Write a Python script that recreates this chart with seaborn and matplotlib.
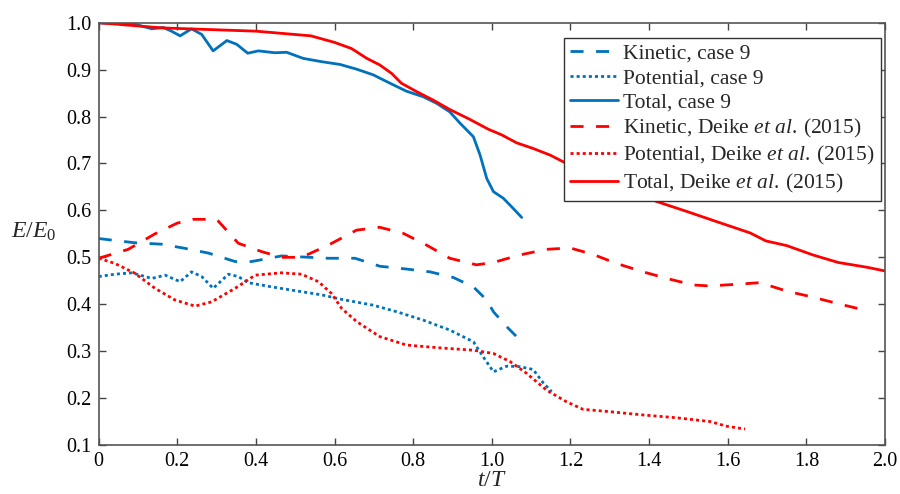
import matplotlib
matplotlib.use('Agg')
import matplotlib.pyplot as plt
import seaborn as sns
import pandas as pd

# energy curves (t/T, E/E0)
t_tot9 = [0, 0.04, 0.075, 0.1, 0.135, 0.164, 0.185, 0.207, 0.236, 0.262, 0.291, 0.326, 0.351, 0.379,
          0.406, 0.448, 0.478, 0.52, 0.567, 0.614, 0.656, 0.698, 0.741, 0.783, 0.826, 0.86, 0.893,
          0.919, 0.953, 0.97, 0.987, 1.004, 1.029, 1.05, 1.076]
e_tot9 = [1.0, 0.998, 1.0, 0.995, 0.987, 0.99, 0.982, 0.972, 0.987, 0.975, 0.94, 0.962, 0.954, 0.935,
          0.94, 0.936, 0.937, 0.924, 0.917, 0.911, 0.901, 0.889, 0.871, 0.854, 0.842, 0.828, 0.81,
          0.786, 0.757, 0.718, 0.668, 0.64, 0.626, 0.608, 0.585]

t_kin9 = [0, 0.092, 0.16, 0.22, 0.279, 0.347, 0.389, 0.465, 0.584, 0.652, 0.715, 0.783, 0.843,
          0.902, 0.953, 0.987, 1.004, 1.038, 1.076]
e_kin9 = [0.54, 0.531, 0.528, 0.519, 0.509, 0.491, 0.491, 0.503, 0.498, 0.498, 0.481, 0.475, 0.469,
          0.457, 0.437, 0.409, 0.384, 0.352, 0.32]

t_pot9 = [0, 0.041, 0.084, 0.135, 0.169, 0.207, 0.236, 0.262, 0.291, 0.33, 0.355, 0.38, 0.44, 0.499,
          0.567, 0.614, 0.698, 0.758, 0.826, 0.893, 0.953, 0.978, 1.004, 1.038, 1.071, 1.105, 1.131, 1.152]
e_pot9 = [0.459, 0.464, 0.467, 0.455, 0.462, 0.448, 0.469, 0.459, 0.434, 0.464, 0.459, 0.446, 0.437,
          0.429, 0.42, 0.411, 0.398, 0.384, 0.366, 0.345, 0.32, 0.288, 0.256, 0.268, 0.267, 0.261,
          0.232, 0.214]

t_totD = [0, 0.16, 0.4, 0.54, 0.6, 0.643, 0.682, 0.715, 0.745, 0.77, 0.809, 0.851, 0.893, 0.944,
          0.991, 1.025, 1.063, 1.105, 1.148, 1.19, 1.419, 1.495, 1.572, 1.657, 1.697, 1.75, 1.817,
          1.881, 1.953, 2.0]
e_totD = [1.0, 0.989, 0.982, 0.972, 0.958, 0.945, 0.924, 0.91, 0.892, 0.871, 0.853, 0.835, 0.815,
          0.794, 0.773, 0.761, 0.744, 0.732, 0.718, 0.7, 0.619, 0.598, 0.576, 0.552, 0.535, 0.525,
          0.505, 0.489, 0.479, 0.471]

t_kinD = [0, 0.075, 0.143, 0.2, 0.24, 0.3, 0.355, 0.415, 0.465, 0.516, 0.584, 0.656, 0.715, 0.775,
          0.834, 0.893, 0.961, 1.004, 1.071, 1.139, 1.199, 1.258, 1.317, 1.385, 1.445, 1.512, 1.555,
          1.631, 1.682, 1.75, 1.817, 1.877, 1.95]
e_kinD = [0.498, 0.517, 0.55, 0.573, 0.581, 0.581, 0.53, 0.512, 0.5, 0.5, 0.526, 0.558, 0.564, 0.551,
          0.526, 0.498, 0.484, 0.489, 0.505, 0.517, 0.52, 0.506, 0.487, 0.469, 0.455, 0.441, 0.439,
          0.443, 0.446, 0.428, 0.415, 0.402, 0.387]

t_potD = [0, 0.041, 0.092, 0.143, 0.194, 0.245, 0.287, 0.347, 0.398, 0.465, 0.516, 0.559, 0.592,
          0.618, 0.656, 0.715, 0.783, 0.868, 0.953, 1.004, 1.046, 1.088, 1.139, 1.19, 1.232, 1.3,
          1.385, 1.47, 1.555, 1.597, 1.644]
e_potD = [0.498, 0.487, 0.466, 0.434, 0.409, 0.396, 0.405, 0.434, 0.462, 0.467, 0.464, 0.448, 0.423,
          0.391, 0.363, 0.331, 0.313, 0.307, 0.302, 0.295, 0.278, 0.253, 0.217, 0.192, 0.176, 0.171,
          0.164, 0.158, 0.15, 0.14, 0.134]

xticks = [0, 0.2, 0.4, 0.6, 0.8, 1.0, 1.2, 1.4, 1.6, 1.8, 2.0]
xticklabels = ['0', '0.2', '0.4', '0.6', '0.8', '1.0', '1.2', '1.4', '1.6', '1.8', '2.0']
yticks = [0.1, 0.2, 0.3, 0.4, 0.5, 0.6, 0.7, 0.8, 0.9, 1.0]
yticklabels = ['0.1', '0.2', '0.3', '0.4', '0.5', '0.6', '0.7', '0.8', '0.9', '1.0']

sns.set_style('ticks')
plt.rcParams['font.family'] = ['Liberation Serif', 'DejaVu Serif']
plt.rcParams['mathtext.fontset'] = 'custom'
plt.rcParams['mathtext.rm'] = 'Liberation Serif'
plt.rcParams['mathtext.it'] = 'Liberation Serif:italic'

blue = '#0072BD'
red = '#FF0000'
dashed = (0, (4.7, 4.5))
dotted = (0, (1.1, 1.1))

series = [
    (t_kin9, e_kin9, blue, dashed, 'Kinetic, case 9'),
    (t_pot9, e_pot9, blue, dotted, 'Potential, case 9'),
    (t_tot9, e_tot9, blue, '-', 'Total, case 9'),
    (t_kinD, e_kinD, red, dashed, r'Kinetic, Deike $\mathit{et\ al.}\:$(2015)'),
    (t_potD, e_potD, red, dotted, r'Potential, Deike $\mathit{et\ al.}\:$(2015)'),
    (t_totD, e_totD, red, '-', r'Total, Deike $\mathit{et\ al.}\:$(2015)'),
]

fig = plt.figure(figsize=(9, 4.94), dpi=100)
ax = fig.add_axes([0.1097, 0.0992, 0.8736, 0.8548])

for t, e, c, ls, lab in series:
    df = pd.DataFrame({'t': t, 'E': e})
    sns.lineplot(data=df, x='t', y='E', ax=ax, color=c, lw=2.0, linestyle=ls,
                 label=lab, estimator=None, sort=False)

ax.set_xlim(0, 2)
ax.set_ylim(0.1, 1.0)
ax.set_xticks(xticks)
ax.set_xticklabels(xticklabels)
ax.set_yticks(yticks)
ax.set_yticklabels(yticklabels)
ax.tick_params(direction='in', length=5, width=1, colors='#444444', labelcolor='black',
               labelsize=14.5, top=True, right=True)
ax.tick_params(axis='x', pad=5)
ax.tick_params(axis='y', pad=5)
for sp in ax.spines.values():
    sp.set_visible(True)
    sp.set_color('#555555')
    sp.set_linewidth(1.2)

ax.set_xlabel(r'$t/T$', fontsize=17, labelpad=-1)
ax.set_ylabel(r'$E/E_0$', fontsize=17, rotation=0, ha='center', va='center')
ax.yaxis.set_label_coords(-0.083, 0.505)

leg = ax.legend(loc='upper right', bbox_to_anchor=(0.9946, 0.964), borderaxespad=0,
                fontsize=15.5, frameon=True, fancybox=False, handlelength=2.2,
                handletextpad=0.25, borderpad=0.28, labelspacing=0.2)
leg.get_frame().set_edgecolor('#333333')
leg.get_frame().set_linewidth(1.0)
leg.get_frame().set_alpha(1)

fig.savefig('out.png', dpi=100)
